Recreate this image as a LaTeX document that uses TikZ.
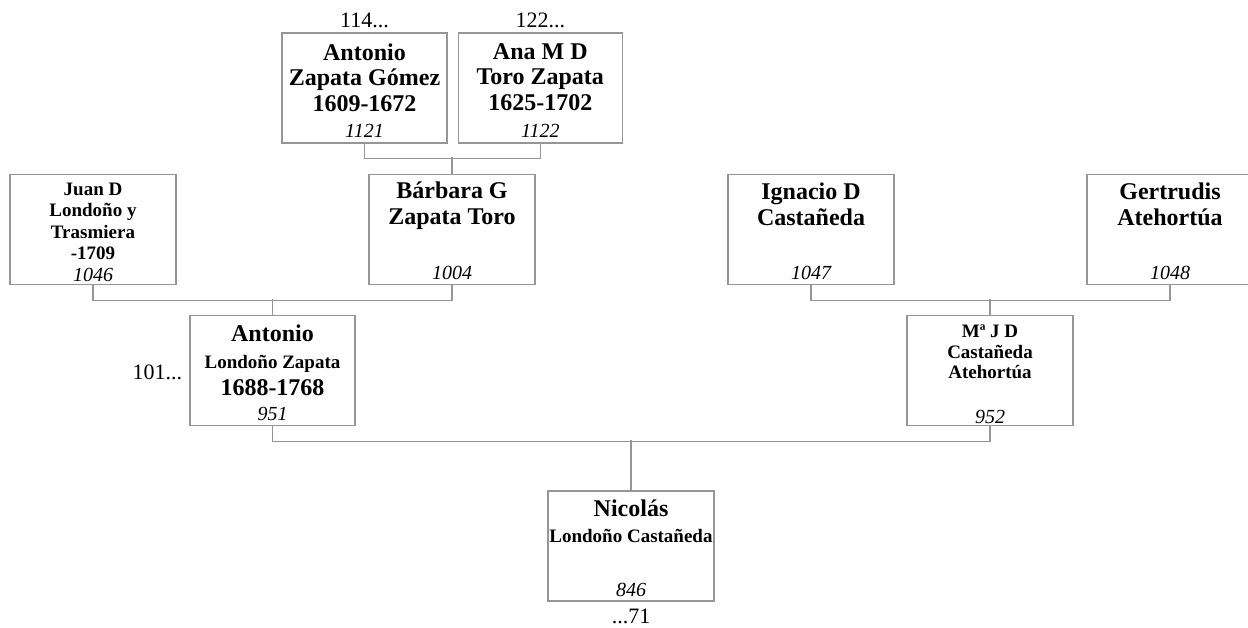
\documentclass[tikz,border=0pt]{standalone}
\usepackage{fontspec}
\setmainfont{Liberation Serif}
\usepackage{xcolor}
\usetikzlibrary{positioning}
\definecolor{linegray}{RGB}{150,150,150}

\begin{document}
\begin{tikzpicture}[
    x=1pt, y=-1pt,
    person/.style={rectangle, draw=linegray, line width=1.3pt, minimum width=166pt, minimum height=110pt, inner sep=0pt},
    bigname/.style={font=\fontsize{24}{25.5}\bfseries, align=center, inner sep=0pt, anchor=north},
    smallname/.style={font=\fontsize{19}{21.3}\bfseries, align=center, inner sep=0pt, anchor=north},
    num/.style={font=\fontsize{20}{22}\itshape, inner sep=0pt, anchor=base},
    ref/.style={font=\fontsize{22}{24}\selectfont, inner sep=0pt, anchor=base},
    link/.style={draw=linegray, line width=1.3pt}
]

\useasboundingbox (0,0) rectangle (1248,628);
\fill [white] (0,0) rectangle (1248,628);

\node (zapata) [person, minimum width=165pt] at (364.5,88) {};
\node (toro) [person, minimum width=164pt, right=10pt of zapata] {};
\node (juan) [person] at (93,229.5) {};
\node (barbara) [person] at (452,229.5) {};
\node (ignacio) [person] at (811,229.5) {};
\node (gertrudis) [person] at (1170,229.5) {};
\node (antonio) [person, minimum width=165pt] at (272.5,370.5) {};
\node (mariaj) [person] at (990,370.5) {};
\node (nicolas) [person] at (631,546) {};

\node (zapata-name) [bigname] at ([yshift=-11pt]zapata.north) {Antonio\\Zapata Gómez\\1609-1672};
\node (toro-name) [bigname] at ([yshift=-11pt]toro.north) {Ana M D\\Toro Zapata\\1625-1702};
\node (juan-name) [smallname] at ([yshift=-9pt]juan.north) {Juan D\\Londoño y\\Trasmiera\\-1709};
\node (barbara-name) [bigname] at ([yshift=-8pt]barbara.north) {Bárbara G\\Zapata Toro};
\node (ignacio-name) [bigname] at ([yshift=-9pt]ignacio.north) {Ignacio D\\Castañeda};
\node (gertrudis-name) [bigname] at ([yshift=-9pt]gertrudis.north) {Gertrudis\\Atehortúa};
\node (antonio-name) [bigname, font=\fontsize{24}{27}\bfseries] at ([yshift=-9.5pt]antonio.north) {Antonio\\{\fontsize{19}{21}\selectfont Londoño Zapata}\\1688-1768};
\node (mariaj-name) [smallname, font=\fontsize{19}{20.5}\bfseries] at ([yshift=-10pt]mariaj.north) {Mª J D\\Castañeda\\Atehortúa};
\node (nicolas-name) [bigname, font=\fontsize{24}{26}\bfseries] at ([yshift=-9pt]nicolas.north) {Nicolás\\{\fontsize{19}{21}\selectfont Londoño Castañeda}};

\node (zapata-num) [num] at ([yshift=6pt]zapata.south) {1121};
\node (toro-num) [num] at ([yshift=6pt]toro.south) {1122};
\node (juan-num) [num] at ([yshift=3.5pt]juan.south) {1046};
\node (barbara-num) [num] at ([yshift=5.5pt]barbara.south) {1004};
\node (ignacio-num) [num] at ([yshift=5.5pt]ignacio.south) {1047};
\node (gertrudis-num) [num] at ([yshift=5.5pt]gertrudis.south) {1048};
\node (antonio-num) [num] at ([yshift=5.5pt]antonio.south) {951};
\node (mariaj-num) [num] at ([yshift=2.5pt]mariaj.south) {952};
\node (nicolas-num) [num] at ([yshift=5pt]nicolas.south) {846};

\node (zapata-ref) [ref] at ([yshift=5pt]zapata.north) {114...};
\node (toro-ref) [ref] at ([yshift=5pt]toro.north) {122...};
\node (antonio-ref) [ref, anchor=base east] at ([xshift=-7pt, yshift=-9.5pt]antonio.west) {101...};
\node (nicolas-ref) [ref] at ([yshift=-22pt]nicolas.south) {...71};

\draw [link] (zapata.south) -- ++(0,15) -| (toro.south);
\draw [link] (barbara.north) -- ++(0,-16.5);
\draw [link] (juan.south) -- ++(0,15.5) -| (barbara.south);
\draw [link] (antonio.north) -- ++(0,-15.5);
\draw [link] (ignacio.south) -- ++(0,15.5) -| (gertrudis.south);
\draw [link] (mariaj.north) -- ++(0,-15.5);
\draw [link] (antonio.south) -- ++(0,15.5) -| (mariaj.south);
\draw [link] (nicolas.north) -- ++(0,-50);

\end{tikzpicture}
\end{document}
